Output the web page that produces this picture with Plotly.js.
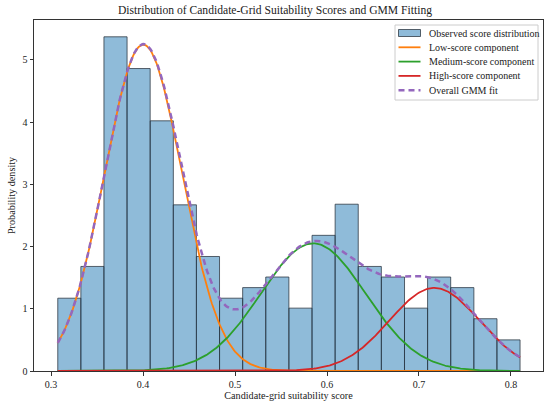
<!DOCTYPE html>
<html>
<head>
<meta charset="utf-8">
<script src="https://cdn.plot.ly/plotly-3.0.1.min.js"></script>
<style>html,body{margin:0;padding:0;background:#fff;}#chart{width:550px;height:408px;}</style>
</head>
<body>
<div id="chart"></div>
<script>
// Histogram bins (centres) and observed density values
var binCenters = [0.3199, 0.3450, 0.3701, 0.3952, 0.4204, 0.4455, 0.4706, 0.4958, 0.5209, 0.5460,
                  0.5712, 0.5963, 0.6214, 0.6465, 0.6717, 0.6968, 0.7219, 0.7471, 0.7722, 0.7973];
var binWidth = 0.02513;
var densities = [1.17, 1.68, 5.37, 4.86, 4.02, 2.67, 1.84, 1.17, 1.34, 1.51,
                 1.01, 2.18, 2.68, 1.68, 1.51, 1.01, 1.51, 1.34, 0.84, 0.50];
// GMM component parameters (estimated from the figure)
var compNames = ["Low-score component", "Medium-score component", "High-score component"];
var compMeans = [0.4003, 0.585, 0.7167];
var compSigmas = [0.042, 0.057, 0.049];
var compWeights = [0.552, 0.293, 0.164];
var compColors = ["#ff7f0e", "#2ca02c", "#d62728"];
var histName = "Observed score distribution";
var totalName = "Overall GMM fit";
var xTicks = [0.3, 0.4, 0.5, 0.6, 0.7, 0.8];
var yTicks = [0, 1, 2, 3, 4, 5];

var xMin = binCenters[0] - binWidth / 2;
var xMax = binCenters[binCenters.length - 1] + binWidth / 2;
var nPts = 400;
var xs = [];
for (var i = 0; i < nPts; i++) xs.push(xMin + (xMax - xMin) * i / (nPts - 1));

function gpdf(x, m, s) { return Math.exp(-0.5 * Math.pow((x - m) / s, 2)) / (s * Math.sqrt(2 * Math.PI)); }

var barFill = 'rgba(31,119,180,0.5)';
var barEdge = 'rgba(40,50,60,0.75)';
var totalColor = '#9467bd';

var traces = [{
  type: 'bar', x: binCenters, y: densities, width: binWidth, name: histName,
  marker: { color: barFill, line: { color: barEdge, width: 1 } }
}];
var total = xs.map(function () { return 0; });
for (var c = 0; c < compMeans.length; c++) {
  var ys = xs.map(function (x) { return compWeights[c] * gpdf(x, compMeans[c], compSigmas[c]); });
  ys.forEach(function (v, k) { total[k] += v; });
  traces.push({ type: 'scatter', mode: 'lines', x: xs, y: ys, name: compNames[c],
    line: { color: compColors[c], width: 1.8 } });
}
traces.push({ type: 'scatter', mode: 'lines', x: xs, y: total, name: totalName,
  line: { color: totalColor, width: 2.5, dash: '6px,4px' } });

var fam = 'Liberation Serif, Times New Roman, serif';

// Custom legend (matplotlib-style compact layout), in plot-area pixel units
var W = 550, H = 408, mL = 34, mR = 7, mT = 20, mB = 37;
var pw = W - mL - mR, ph = H - mT - mB;
function px2x(p) { return (p - mL) / pw; }
function px2y(p) { return (H - mB - p) / ph; }
var legLeft = 395, legRight = 538, legTop = 25, legBottom = 100;
var rowY0 = 33, rowStep = 14.3, symL = 398.5, symR = 420.5, txtX = 426.5;

var shapes = [{ type: 'rect', xref: 'paper', yref: 'paper', layer: 'above',
  x0: px2x(legLeft), x1: px2x(legRight), y0: px2y(legBottom), y1: px2y(legTop),
  fillcolor: 'rgba(255,255,255,0.85)', line: { color: '#cccccc', width: 1 } }];
var annotations = [];
traces.forEach(function (t, k) {
  var yc = rowY0 + k * rowStep;
  if (t.type === 'bar') {
    shapes.push({ type: 'rect', xref: 'paper', yref: 'paper', layer: 'above',
      x0: px2x(symL), x1: px2x(symR), y0: px2y(yc + 3.5), y1: px2y(yc - 3.5),
      fillcolor: barFill, line: { color: barEdge, width: 1 } });
  } else {
    shapes.push({ type: 'line', xref: 'paper', yref: 'paper', layer: 'above',
      x0: px2x(symL), x1: px2x(symR), y0: px2y(yc), y1: px2y(yc),
      line: { color: t.line.color, width: t.line.width, dash: t.line.dash || 'solid' } });
  }
  annotations.push({ xref: 'paper', yref: 'paper', x: px2x(txtX), y: px2y(yc), xanchor: 'left', yanchor: 'middle',
    showarrow: false, text: t.name, font: { family: fam, size: 10, color: '#222' } });
});

var layout = {
  width: W, height: H,
  margin: { l: mL, r: mR, t: mT, b: mB },
  paper_bgcolor: '#fff', plot_bgcolor: '#fff',
  font: { family: fam, size: 10, color: '#222' },
  title: { text: 'Distribution of Candidate-Grid Suitability Scores and GMM Fitting',
    font: { family: fam, size: 11.6, color: '#222' }, x: 0.5, xanchor: 'center', y: 0.985, yanchor: 'top' },
  bargap: 0,
  showlegend: false,
  shapes: shapes,
  annotations: annotations,
  xaxis: { range: [0.2815, 0.8348], tickvals: xTicks, ticktext: xTicks.map(function (v) { return v.toFixed(1); }),
    showgrid: false, zeroline: false, showline: true, linecolor: '#333', linewidth: 1, mirror: true,
    ticks: 'outside', ticklen: 3.5, tickcolor: '#333', tickfont: { family: fam, size: 10, color: '#222' },
    title: { text: 'Candidate-grid suitability score', font: { family: fam, size: 10.2, color: '#222' }, standoff: 3 } },
  yaxis: { range: [0, 5.64], tickvals: yTicks, showgrid: false, zeroline: false, showline: true,
    linecolor: '#333', linewidth: 1, mirror: true, ticks: 'outside', ticklen: 3.5, tickcolor: '#333',
    tickfont: { family: fam, size: 10, color: '#222' },
    title: { text: 'Probability density', font: { family: fam, size: 10.2, color: '#222' }, standoff: 4 } }
};
Plotly.newPlot('chart', traces, layout, { displayModeBar: false, staticPlot: true });
</script>
</body>
</html>
